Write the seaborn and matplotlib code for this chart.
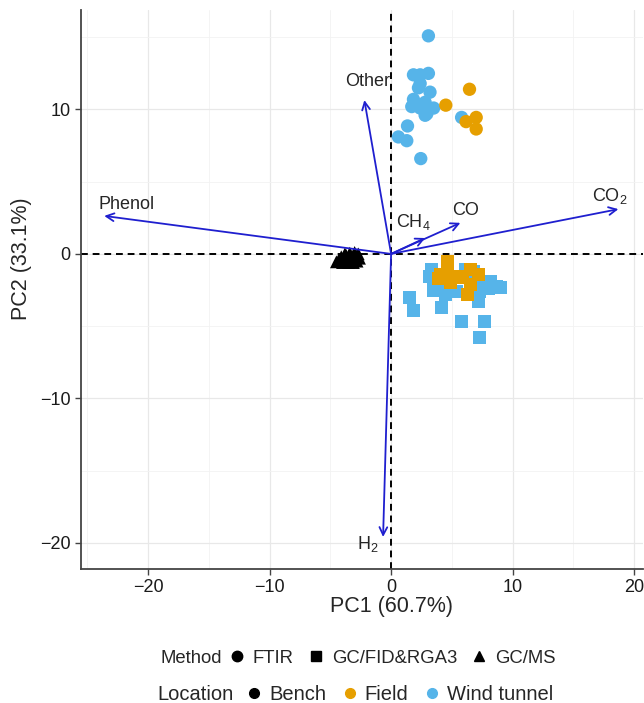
import matplotlib
matplotlib.use("Agg")
import matplotlib.pyplot as plt
from matplotlib.lines import Line2D
from matplotlib.ticker import MultipleLocator
import numpy as np
import pandas as pd
import seaborn as sns

# ---- scores: wind tunnel, FTIR (circles) ----
wt_ftir_pc1 = [3.07, 1.84, 2.39, 3.07, 2.39, 2.25, 3.2, 1.84, 2.8, 1.7, 2.39, 2.94,
               3.5, 2.8, 5.8, 1.35, 0.6, 1.29, 2.44]
wt_ftir_pc2 = [15.1, 12.4, 12.4, 12.5, 11.8, 11.5, 11.2, 10.7, 10.5, 10.2, 10.1, 9.7,
               10.1, 9.6, 9.45, 8.86, 8.1, 7.84, 6.6]

# ---- scores: field, FTIR (circles) ----
fd_ftir_pc1 = [4.5, 6.45, 6.17, 7.0, 7.0]
fd_ftir_pc2 = [10.3, 11.4, 9.16, 9.45, 8.65]

# ---- scores: wind tunnel, GC/FID&RGA3 (squares) ----
wt_gc_pc1 = [1.48, 1.84, 4.17, 5.8, 7.7, 7.3, 7.2, 3.5, 4.44, 3.2, 3.35, 8.7, 9.0,
             8.0, 7.3, 8.15, 6.8, 5.4, 6.1, 7.6, 4.0]
wt_gc_pc2 = [-3.0, -3.9, -3.7, -4.7, -4.7, -5.8, -3.3, -2.5, -2.84, -1.57, -1.1,
             -2.26, -2.33, -2.4, -2.6, -1.9, -1.2, -2.6, -1.1, -2.1, -2.2]

# ---- scores: field, GC/FID&RGA3 (squares) ----
fd_gc_pc1 = [4.64, 4.64, 4.03, 4.86, 5.4, 6.5, 7.2, 6.5, 4.86, 6.3, 4.2, 5.9, 3.9]
fd_gc_pc2 = [-0.53, -1.0, -1.45, -1.7, -1.57, -1.1, -1.45, -2.1, -2.0, -2.84, -1.7,
             -1.6, -1.7]

# ---- scores: bench, GC/MS (triangles) ----
bn_ms_pc1 = [-4.5, -4.3, -4.1, -3.9, -3.8, -3.6, -3.5, -3.4, -3.2, -3.1, -3.0, -2.9,
             -2.8, -2.7, -2.6, -3.7, -4.0, -3.3]
bn_ms_pc2 = [-0.55, -0.4, -0.2, -0.5, 0.0, -0.3, -0.6, 0.05, -0.35, -0.6, 0.1, -0.2,
             -0.5, 0.0, -0.3, -0.1, -0.6, -0.15]

# ---- loadings (biplot arrows) ----
var_names = ["Phenol", "Other", "CO$_2$", "CO", "CH$_4$", "H$_2$"]
var_pc1 = [-23.6, -2.2, 18.7, 5.7, 2.8, -0.66]
var_pc2 = [2.63, 10.65, 3.1, 2.15, 1.1, -19.6]
lab_pc1 = [-21.8, -1.9, 18.0, 6.1, 1.8, -1.9]
lab_pc2 = [3.45, 11.95, 4.0, 3.0, 2.2, -20.1]

methods = ["FTIR", "GC/FID&RGA3", "GC/MS"]
locations = ["Bench", "Field", "Wind tunnel"]
palette = {"Bench": "black", "Field": "#E69F00", "Wind tunnel": "#56B4E9"}
markers = {"FTIR": "o", "GC/FID&RGA3": "s", "GC/MS": "^"}


def block(pc1, pc2, method, location):
    return pd.DataFrame({"PC1": pc1, "PC2": pc2, "Method": method, "Location": location})


scores = pd.concat([
    block(wt_gc_pc1, wt_gc_pc2, "GC/FID&RGA3", "Wind tunnel"),
    block(fd_gc_pc1, fd_gc_pc2, "GC/FID&RGA3", "Field"),
    block(wt_ftir_pc1, wt_ftir_pc2, "FTIR", "Wind tunnel"),
    block(fd_ftir_pc1, fd_ftir_pc2, "FTIR", "Field"),
    block(bn_ms_pc1, bn_ms_pc2, "GC/MS", "Bench"),
], ignore_index=True)

sns.set_style("white")
plt.rcParams["font.family"] = ["Liberation Sans", "DejaVu Sans"]
plt.rcParams["mathtext.default"] = "regular"

fig = plt.figure(figsize=(6.44, 7.03), dpi=100)
ax = fig.add_axes([0.126, 0.191, 0.872, 0.795])

ax.set_xlim(-25.5, 20.7)
ax.set_ylim(-21.8, 16.9)
ax.xaxis.set_major_locator(MultipleLocator(10))
ax.yaxis.set_major_locator(MultipleLocator(10))
ax.xaxis.set_minor_locator(MultipleLocator(5))
ax.yaxis.set_minor_locator(MultipleLocator(5))
ax.grid(which="major", color="#e8e8e8", lw=0.9)
ax.grid(which="minor", color="#f2f2f2", lw=0.6)
ax.set_axisbelow(True)

ax.axhline(0, color="black", ls=(0, (3.5, 2.5)), lw=1.4, zorder=1)
ax.axvline(0, color="black", ls=(0, (3.5, 2.5)), lw=1.4, zorder=1)

for mk, sz in (("GC/FID&RGA3", 88), ("FTIR", 92), ("GC/MS", 85)):
    sub = scores[scores["Method"] == mk]
    sns.scatterplot(data=sub, x="PC1", y="PC2", hue="Location", style="Method",
                    palette=palette, markers=markers, s=sz, linewidth=0,
                    legend=False, ax=ax, zorder=3)

arrow_col = "#1f1fcf"
for name, x1, y1, lx, ly in zip(var_names, var_pc1, var_pc2, lab_pc1, lab_pc2):
    ax.annotate("", xy=(x1, y1), xytext=(0, 0),
                arrowprops=dict(arrowstyle="->", color=arrow_col, lw=1.3,
                                mutation_scale=14, shrinkA=0, shrinkB=0),
                zorder=4)
    ax.text(lx, ly, name, fontsize=13, ha="center", va="center", zorder=5)

for side in ("top", "right"):
    ax.spines[side].set_visible(False)
for side in ("left", "bottom"):
    ax.spines[side].set_color("#444444")
    ax.spines[side].set_linewidth(1.3)
ax.tick_params(which="major", length=4, width=1, color="#444444",
               labelsize=13, labelcolor="#1a1a1a", bottom=True, left=True)
ax.tick_params(which="minor", length=0)

ax.set_xlabel("PC1 (60.7%)", fontsize=15.5, labelpad=0)
ax.set_ylabel("PC2 (33.1%)", fontsize=15.5, labelpad=6)
ax.xaxis.label.set_x(0.552)
ax.yaxis.label.set_y(0.555)

# legends
fig.text(0.249, 0.064, "Method", fontsize=13.3, va="center", ha="left")
h_method = [Line2D([], [], ls="none", marker=markers[m], color="black", markersize=7.5)
            for m in methods]
fig.legend(h_method, methods, loc="center left", bbox_to_anchor=(0.357, 0.064),
           ncol=3, frameon=False, fontsize=13.3, handlelength=0.8, handletextpad=0.45,
           columnspacing=0.8, borderpad=0, borderaxespad=0)

fig.text(0.245, 0.0125, "Location", fontsize=14.5, va="center", ha="left")
h_loc = [Line2D([], [], ls="none", marker="o", color=palette[l], markersize=7)
         for l in locations]
fig.legend(h_loc, locations, loc="center left", bbox_to_anchor=(0.384, 0.0125),
           ncol=3, frameon=False, fontsize=14.5, handlelength=0.7, handletextpad=0.4,
           columnspacing=0.8, borderpad=0, borderaxespad=0)

fig.savefig("out.png", dpi=100)
